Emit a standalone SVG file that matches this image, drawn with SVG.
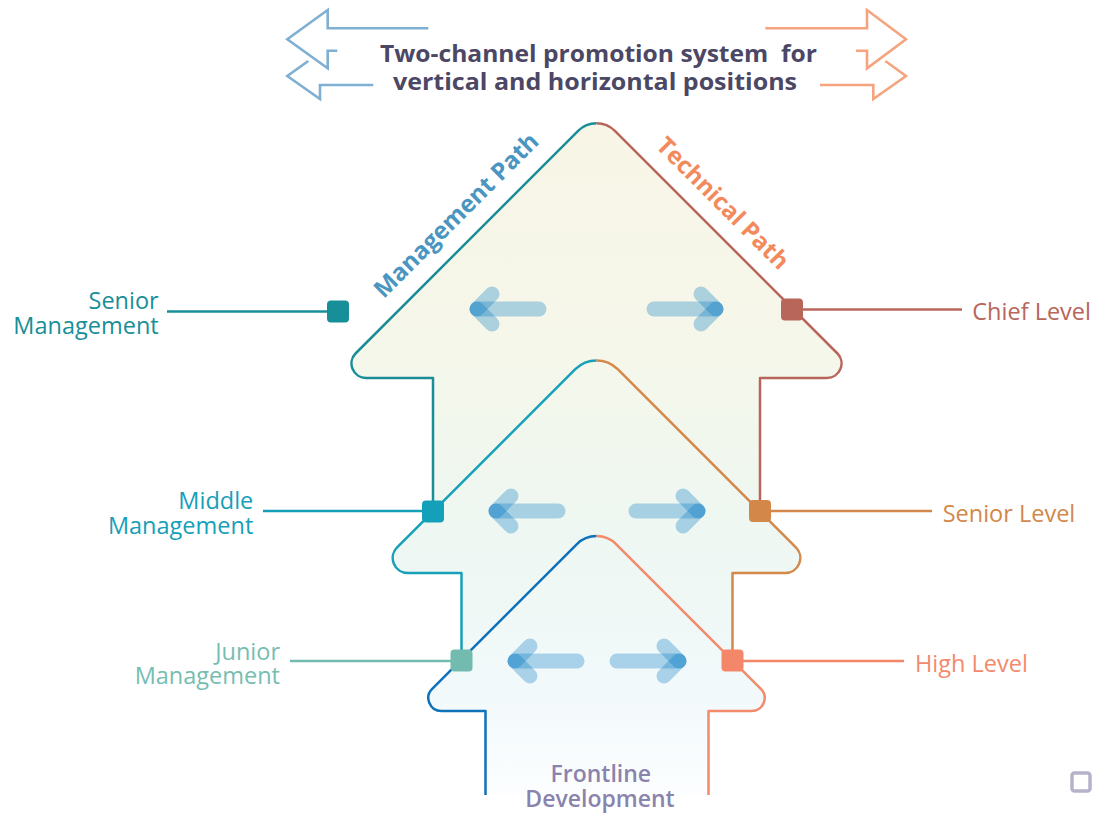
<svg xmlns="http://www.w3.org/2000/svg" width="1094" height="816" viewBox="0 0 1094 816">
  <defs>
    <linearGradient id="bodyFill" x1="0" y1="112" x2="0" y2="795" gradientUnits="userSpaceOnUse">
      <stop offset="0" stop-color="#f8f5e6"/>
      <stop offset="0.35" stop-color="#f5f7ea"/>
      <stop offset="0.62" stop-color="#eef7f2"/>
      <stop offset="0.85" stop-color="#f2f9fb"/>
      <stop offset="1" stop-color="#fcfeff"/>
    </linearGradient>
    <style>
      .edge { fill: none; stroke-width: 2.5; stroke-linejoin: round; }
      .lead { fill: none; stroke-width: 2.5; }
      .hdr { fill: none; stroke-width: 2.6; stroke-linejoin: miter; }
      .flow { stroke: #0076c2; stroke-opacity: 0.3; stroke-width: 15; stroke-linecap: round; fill: none; }
      .lbl { font-family: "Open Sans", "Noto Sans", "Liberation Sans", sans-serif; font-size: 23.5px; }
      .title { font-family: "Open Sans", "Noto Sans", "Liberation Sans", sans-serif; font-size: 24px; font-weight: 700; fill: #4b4764; }
      .path-lbl { font-family: "Open Sans", "Noto Sans", "Liberation Sans", sans-serif; font-size: 24px; font-weight: 700; }
    </style>
  </defs>

  <rect width="1094" height="816" fill="#ffffff"/>

  <!-- header: two-way outline arrows and title -->
  <g id="header">
    <path class="hdr" stroke="#7fb0d2" d="M428.3 28.3 L327.7 28.3 L327.7 10 L287.3 39.3 L327.7 68.3 L327.7 50.7 L337.3 50.7"/>
    <path class="hdr" stroke="#7fb0d2" d="M308.3 61 L287.3 76 L320 99 L320 85 L373.3 85"/>
    <path class="hdr" stroke="#f5a47f" d="M765.3 28.3 L867 28.3 L867 10 L906 39.3 L867 68.3 L867 50.7 L856 50.7"/>
    <path class="hdr" stroke="#f5a47f" d="M885.3 61 L906 76 L873.3 99 L873.3 85 L820 85"/>
    <text class="title" x="598.5" y="61.7" text-anchor="middle" xml:space="preserve" textLength="437" lengthAdjust="spacingAndGlyphs">Two-channel promotion system  for</text>
    <text class="title" x="595" y="89.6" text-anchor="middle" textLength="404" lengthAdjust="spacingAndGlyphs">vertical and horizontal positions</text>
  </g>

  <!-- shared body fill of the three stacked arrows -->
  <path id="body" fill="url(#bodyFill)" d="M596.5 123.27 A26 26 0 0 1 614.88 130.88 L837.25 353.25 A14.5 14.5 0 0 1 827 378 L760 378 L760 511.5 L795.89 547.39 A15 15 0 0 1 785.29 573 L732.5 573 L732.5 660.5 L760.81 688.81 A13 13 0 0 1 751.62 711 L708.5 711 L708.5 795 L485.5 795 L485.5 711 L441.38 711 A13 13 0 0 1 432.19 688.81 L461.5 659.5 L461.5 573 L407.71 573 A15 15 0 0 1 397.11 547.39 L433 511.5 L433 378 L366 378 A14.5 14.5 0 0 1 355.75 353.25 L578.12 130.88 A26 26 0 0 1 596.5 123.27 Z"/>

  <!-- arrow outlines: left half = management, right half = technical -->
  <g id="connectors">
    <path class="edge" stroke="#1a8d98" d="M433 511.5 L433 378 L366 378 A14.5 14.5 0 0 1 355.75 353.25 L578.12 130.88 A26 26 0 0 1 596.5 123.27"/>
    <path class="edge" stroke="#b8665c" d="M760 511.5 L760 378 L827 378 A14.5 14.5 0 0 0 837.25 353.25 L614.88 130.88 A26 26 0 0 0 596.5 123.27"/>
    <path class="edge" stroke="#17a1b9" d="M461.5 659.5 L461.5 573 L407.71 573 A15 15 0 0 1 397.11 547.39 L575.29 369.21 A30 30 0 0 1 596.5 360.43"/>
    <path class="edge" stroke="#d4884a" d="M732.5 660.5 L732.5 573 L785.29 573 A15 15 0 0 0 795.89 547.39 L617.71 369.21 A30 30 0 0 0 596.5 360.43"/>
    <path class="edge" stroke="#0f71b9" d="M485.5 795 L485.5 711 L441.38 711 A13 13 0 0 1 432.19 688.81 L576.7 544.3 A28 28 0 0 1 596.5 536.1"/>
    <path class="edge" stroke="#f4896b" d="M708.5 795 L708.5 711 L751.62 711 A13 13 0 0 0 760.81 688.81 L616.3 544.3 A28 28 0 0 0 596.5 536.1"/>

    <line class="lead" stroke="#178f99" x1="167" y1="311.5" x2="338" y2="311.5"/>
    <line class="lead" stroke="#15a0b9" x1="263" y1="511" x2="433" y2="511"/>
    <line class="lead" stroke="#74bbaf" x1="290" y1="661" x2="461.5" y2="661"/>
    <line class="lead" stroke="#b8665a" x1="792" y1="309.5" x2="962" y2="309.5"/>
    <line class="lead" stroke="#d3884a" x1="760" y1="511" x2="932" y2="511"/>
    <line class="lead" stroke="#f4876a" x1="732.5" y1="661" x2="904" y2="661"/>
  </g>

  <!-- sideways movement arrows inside each level -->
  <g id="flows">
    <line class="flow" x1="477" y1="309" x2="539" y2="309"/>
    <line class="flow" x1="477" y1="309" x2="492" y2="294"/>
    <line class="flow" x1="477" y1="309" x2="492" y2="324"/>
    <line class="flow" x1="654" y1="309" x2="716" y2="309"/>
    <line class="flow" x1="716" y1="309" x2="701" y2="294"/>
    <line class="flow" x1="716" y1="309" x2="701" y2="324"/>

    <line class="flow" x1="496" y1="511" x2="558" y2="511"/>
    <line class="flow" x1="496" y1="511" x2="511" y2="496"/>
    <line class="flow" x1="496" y1="511" x2="511" y2="526"/>
    <line class="flow" x1="636" y1="511" x2="698" y2="511"/>
    <line class="flow" x1="698" y1="511" x2="683" y2="496"/>
    <line class="flow" x1="698" y1="511" x2="683" y2="526"/>

    <line class="flow" x1="515" y1="661" x2="577" y2="661"/>
    <line class="flow" x1="515" y1="661" x2="530" y2="646"/>
    <line class="flow" x1="515" y1="661" x2="530" y2="676"/>
    <line class="flow" x1="617" y1="661" x2="679" y2="661"/>
    <line class="flow" x1="679" y1="661" x2="664" y2="646"/>
    <line class="flow" x1="679" y1="661" x2="664" y2="676"/>
  </g>

  <!-- path titles along the roof -->
  <text id="management-path" class="path-lbl" fill="#4b95c1" text-anchor="middle" transform="translate(462 221) rotate(-45)">Management Path</text>
  <text id="technical-path" class="path-lbl" fill="#f28a5c" text-anchor="middle" transform="translate(717 209) rotate(45)">Technical Path</text>

  <!-- management levels -->
  <g id="senior-management">
    <rect x="327" y="300.5" width="22" height="22" rx="4" fill="#178f99"/>
    <text class="lbl" fill="#178f99" text-anchor="end"><tspan x="158.7" y="309">Senior</tspan><tspan x="158.7" y="333.5">Management</tspan></text>
  </g>
  <g id="middle-management">
    <rect x="422" y="500.5" width="22" height="22" rx="4" fill="#15a0b9"/>
    <text class="lbl" fill="#15a0b9" text-anchor="end"><tspan x="253.3" y="509">Middle</tspan><tspan x="253.3" y="533.5">Management</tspan></text>
  </g>
  <g id="junior-management">
    <rect x="450.5" y="649.5" width="22" height="22" rx="4" fill="#74bbaf"/>
    <text class="lbl" fill="#76bdb2" text-anchor="end"><tspan x="280" y="659.5">Junior</tspan><tspan x="280" y="684">Management</tspan></text>
  </g>

  <!-- technical levels -->
  <g id="chief-level">
    <rect x="781" y="298.5" width="22" height="22" rx="4" fill="#b8665a"/>
    <text class="lbl" fill="#b8655a" x="972.3" y="320">Chief Level</text>
  </g>
  <g id="senior-level">
    <rect x="749" y="500" width="22" height="22" rx="4" fill="#d3884a"/>
    <text class="lbl" fill="#d3874a" x="942.7" y="521.7">Senior Level</text>
  </g>
  <g id="high-level">
    <rect x="721.5" y="649.5" width="22" height="22" rx="4" fill="#f4876a"/>
    <text class="lbl" fill="#f38a6c" x="915" y="671.7">High Level</text>
  </g>

  <!-- entry level -->
  <g id="frontline-development">
    <text font-family="Open Sans, Noto Sans, Liberation Sans, sans-serif" font-size="23" font-weight="600" fill="#8a83ad" text-anchor="middle"><tspan x="600.8" y="781.7">Frontline</tspan><tspan x="600" y="807.3">Development</tspan></text>
  </g>

  <rect id="corner-mark" x="1072" y="773" width="18" height="18" rx="2.5" fill="none" stroke="#b5b3ca" stroke-width="3.5"/>
</svg>
